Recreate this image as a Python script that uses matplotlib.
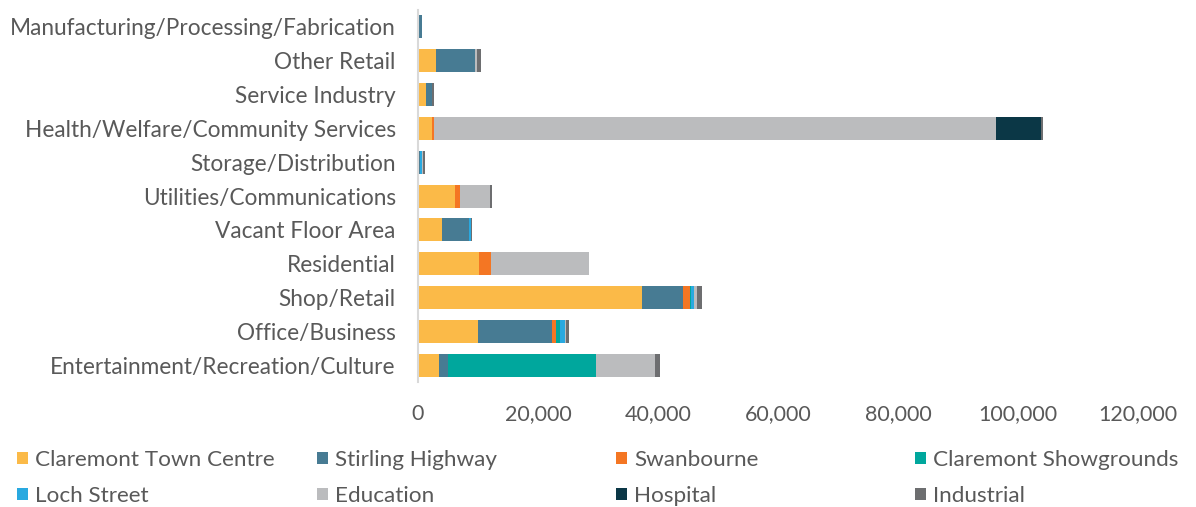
import matplotlib.pyplot as plt
import numpy as np
from matplotlib.patches import Patch
from matplotlib.ticker import FuncFormatter

plt.rcParams["font.family"] = ["Lato", "DejaVu Sans"]

categories = [
    "Manufacturing/Processing/Fabrication",
    "Other Retail",
    "Service Industry",
    "Health/Welfare/Community Services",
    "Storage/Distribution",
    "Utilities/Communications",
    "Vacant Floor Area",
    "Residential",
    "Shop/Retail",
    "Office/Business",
    "Entertainment/Recreation/Culture",
]

town_centre = [0, 3000, 1250, 2400, 0, 6200, 4000, 10200, 37300, 10000, 3500]
stirling = [600, 6500, 1150, 0, 300, 0, 4550, 0, 6800, 12300, 1500]
swanbourne = [0, 0, 0, 200, 100, 800, 0, 2000, 1200, 700, 0]
showgrounds = [0, 0, 0, 0, 0, 0, 0, 0, 200, 700, 24700]
loch_street = [0, 0, 0, 0, 200, 0, 300, 0, 500, 800, 0]
education = [0, 330, 0, 93800, 300, 5000, 0, 16300, 450, 100, 9800]
hospital = [0, 0, 0, 7430, 0, 0, 0, 0, 0, 0, 0]
industrial = [0, 670, 200, 400, 200, 400, 200, 0, 950, 500, 800]

series = [
    ("Claremont Town Centre", town_centre, "#FBBA48"),
    ("Stirling Highway", stirling, "#477B93"),
    ("Swanbourne", swanbourne, "#F47623"),
    ("Claremont Showgrounds", showgrounds, "#00A79D"),
    ("Loch Street", loch_street, "#29A9E0"),
    ("Education", education, "#BBBCBE"),
    ("Hospital", hospital, "#0B3746"),
    ("Industrial", industrial, "#6D6E70"),
]

TEXT = "#595959"

fig = plt.figure(figsize=(11.96, 5.07), dpi=100)
ax = fig.add_axes([0.3495, 0.2465, 0.602, 0.7337])

y = np.arange(len(categories))
left = np.zeros(len(categories))
for name, vals, color in series:
    vals = np.array(vals, dtype=float)
    ax.barh(y, vals, left=left, height=0.68, color=color, label=name)
    left += vals

ax.set_ylim(len(categories) - 0.5, -0.5)
ax.set_xlim(0, 120000)
ax.set_xticks(np.arange(0, 120001, 20000))
ax.xaxis.set_major_formatter(FuncFormatter(lambda v, p: f"{int(v):,}"))
ax.set_yticks(y)
ax.set_yticklabels(categories)
ax.tick_params(axis="both", length=0, colors=TEXT)
ax.tick_params(axis="y", pad=16, labelsize=16.3)
ax.tick_params(axis="x", pad=16, labelsize=15.5)
for side in ("top", "right", "bottom"):
    ax.spines[side].set_visible(False)
ax.spines["left"].set_color("#d9d9d9")
ax.spines["left"].set_linewidth(1.5)

# legend: 4 columns of 2 rows, evenly spaced like the original
col_x = [0.0142, 0.265, 0.515, 0.765]
for i, x in enumerate(col_x):
    pair = [series[i], series[i + 4]]
    handles = [Patch(facecolor=c, edgecolor="none", label=n) for n, _, c in pair]
    leg = fig.legend(handles=handles, loc="center left", bbox_to_anchor=(x, 0.057),
                     frameon=False, fontsize=16.2, handlelength=0.47, handleheight=0.47,
                     handletextpad=0.33, labelspacing=0.72, borderpad=0,
                     borderaxespad=0)
    for t in leg.get_texts():
        t.set_color(TEXT)

fig.savefig("out.png", dpi=100)
